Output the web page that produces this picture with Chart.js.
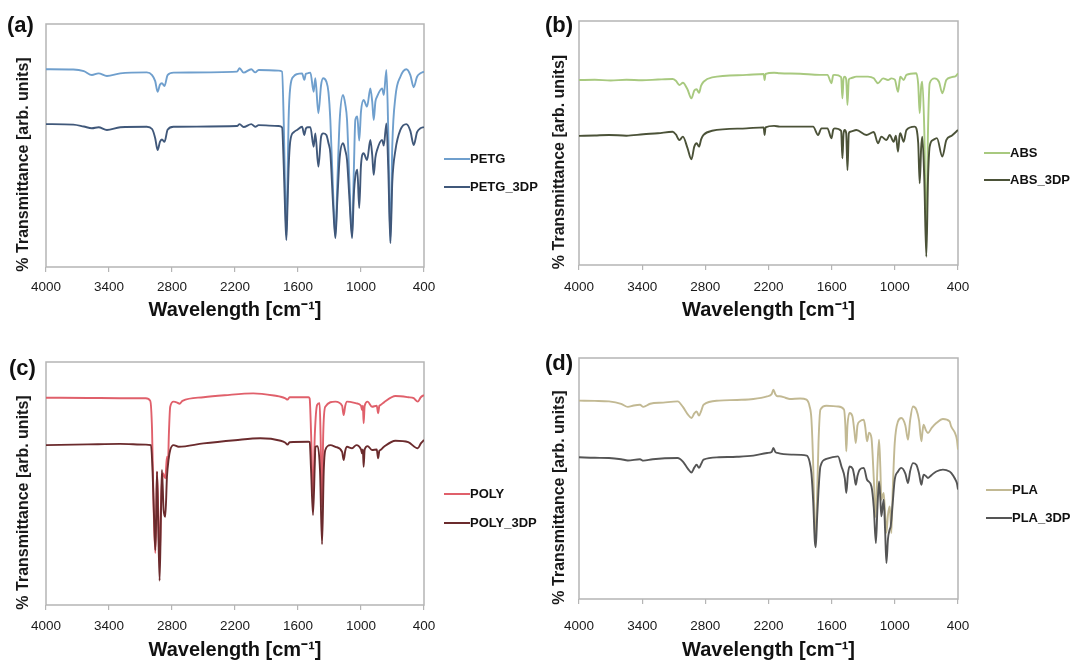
<!DOCTYPE html>
<html>
<head>
<meta charset="utf-8">
<script src="https://cdn.jsdelivr.net/npm/chart.js@4.4.0/dist/chart.umd.min.js"></script>
<style>
  body { margin: 0; background: #fff; }
  #wrap { position: relative; width: 1080px; height: 661px; overflow: hidden; font-family: 'Liberation Sans', Arial, sans-serif; }
  .panel { position: absolute; }
  .tag { position: absolute; font-weight: bold; font-size: 22px; color: #111; line-height: 1; }
  .leg { position: absolute; display: flex; align-items: center; font-weight: bold; font-size: 13px; color: #111; line-height: 1; }
  .leg span.ln { display: inline-block; width: 26px; height: 2px; }
</style>
</head>
<body>
<div id="wrap">
  <canvas class="panel" id="ca" width="540" height="330" style="left:0;top:0"></canvas>
  <canvas class="panel" id="cb" width="540" height="330" style="left:540px;top:0"></canvas>
  <canvas class="panel" id="cc" width="540" height="331" style="left:0;top:330px"></canvas>
  <canvas class="panel" id="cd" width="540" height="331" style="left:540px;top:330px"></canvas>

  <div class="tag" style="left:7px;top:14px">(a)</div>
  <div class="tag" style="left:545px;top:14px">(b)</div>
  <div class="tag" style="left:9px;top:357px">(c)</div>
  <div class="tag" style="left:545px;top:352px">(d)</div>

  <div class="leg" style="left:444px;top:152px"><span class="ln" style="background:#6f9fcd"></span>PETG</div>
  <div class="leg" style="left:444px;top:180px"><span class="ln" style="background:#40587a"></span>PETG_3DP</div>
  <div class="leg" style="left:984px;top:146px"><span class="ln" style="background:#a8c97f"></span>ABS</div>
  <div class="leg" style="left:984px;top:173px"><span class="ln" style="background:#4b5238"></span>ABS_3DP</div>
  <div class="leg" style="left:444px;top:487px"><span class="ln" style="background:#e0606b"></span>POLY</div>
  <div class="leg" style="left:444px;top:516px"><span class="ln" style="background:#6b2b2d"></span>POLY_3DP</div>
  <div class="leg" style="left:986px;top:483px"><span class="ln" style="background:#c2b993"></span>PLA</div>
  <div class="leg" style="left:986px;top:511px"><span class="ln" style="background:#555555"></span>PLA_3DP</div>
</div>

<script>
// wavenumber ticks (cm-1)
var X_TICKS = [4000, 3400, 2800, 2200, 1600, 1000, 400];

// spectra: [wavenumber, transmittance (arb.)]
var PETG = [[4000,81.4],[3740,81.3],[3640,80.6],[3563,79],[3500,79.7],[3420,78.6],[3293,79.7],[3040,80.1],[2990,79],[2960,76.5],[2937,72.1],[2915,75],[2896,75.6],[2871,74.5],[2842,79],[2785,80],[2181,80.4],[2156,81.8],[2118,80],[2045,81.4],[2007,80.1],[1975,81.1],[1784,80.8],[1752,80.4],[1736,60],[1722,30],[1711,13],[1700,35],[1690,60],[1673,74.2],[1640,78.5],[1609,79.4],[1561,79.7],[1540,77],[1525,79.5],[1508,79.7],[1482,80],[1451,72.1],[1435,77.7],[1406,63.3],[1380,74.9],[1361,77.7],[1330,76.3],[1310,72],[1292,60.5],[1265,30],[1244,12.5],[1225,35],[1203,60.5],[1171,70.8],[1150,67],[1133,60.5],[1110,35],[1085,12.5],[1068,40],[1054,60.5],[1035,62],[1017,52],[1000,64],[975,68.7],[942,66],[911,73.5],[893,68],[879,60.5],[863,68],[847,70.1],[799,73.5],[783,70.8],[758,81.1],[740,55],[720,10.5],[702,50],[672,70.1],[625,78.3],[568,81.4],[530,79],[498,74],[466,78.3],[434,79.7],[400,80.4]];
var PETG_3DP = [[4000,58.8],[3740,58.6],[3640,57.8],[3563,57.1],[3500,57.5],[3420,56.4],[3293,57.5],[3040,57.7],[2990,56.8],[2960,53],[2937,48.1],[2915,51.5],[2896,52.5],[2871,51.5],[2842,56.5],[2785,57.7],[2181,58],[2156,58.8],[2118,57.6],[2045,58.8],[2007,57.7],[1975,58.4],[1784,58],[1752,57.5],[1736,42],[1722,22],[1711,11.1],[1700,25],[1690,40],[1673,52],[1640,55.5],[1609,56.4],[1561,57.7],[1540,54.3],[1525,57],[1508,57.5],[1482,57.5],[1451,49.5],[1435,55],[1406,41.3],[1380,53.6],[1361,55],[1330,54.3],[1310,51],[1292,46.8],[1265,25],[1244,11.9],[1225,28],[1203,45],[1171,50.9],[1150,48],[1133,44],[1110,28],[1085,11.9],[1068,30],[1054,37.2],[1035,40],[1017,24.3],[1000,42],[975,46.8],[942,44],[911,52.3],[893,46],[879,37.9],[863,45],[847,48.1],[799,52.3],[783,50],[758,59.1],[740,40],[720,9.8],[702,35],[672,48.1],[625,56.4],[568,58.8],[530,56],[498,50.2],[466,55.5],[434,57.1],[400,57.6]];

var ABS = [[4000,75.8],[3850,75.9],[3700,75.6],[3550,75.9],[3400,75.7],[3250,76],[3111,76.2],[3080,75.5],[3046,73.8],[3013,74.7],[2970,72],[2932,68.3],[2905,71.5],[2883,72],[2860,70.6],[2840,73.5],[2817,75.1],[2736,76.9],[2409,77.9],[2246,78.3],[2237,75.8],[2228,78.3],[2147,78.8],[2093,78.6],[1900,78.4],[1713,77.9],[1640,77.9],[1602,74.5],[1585,77.8],[1571,77.9],[1510,77],[1498,68.3],[1487,76.5],[1476,77.2],[1462,76],[1450,65.6],[1437,76],[1422,76.5],[1365,77.2],[1255,77.2],[1200,76.5],[1160,74.5],[1112,76.5],[1065,75.8],[1033,76.5],[1000,76],[970,71],[955,75.5],[948,77.2],[916,75.8],[890,77.9],[796,78.6],[778,74],[764,62.2],[750,73],[739,75.1],[720,55],[701,10],[685,55],[669,74.5],[622,76.5],[580,75],[549,70.4],[511,75.8],[460,77],[420,77.5],[400,78.6]];
var ABS_3DP = [[4000,52.9],[3850,53.1],[3715,53.3],[3550,53],[3389,53.6],[3250,54],[3111,54.6],[3080,53.5],[3046,51.2],[3013,52.6],[2970,48],[2932,43.3],[2905,48.5],[2883,49.9],[2860,48.5],[2840,51.5],[2817,53.3],[2736,55],[2409,56],[2246,56.4],[2237,53.3],[2228,56.4],[2147,57],[2093,56.7],[1776,56.7],[1729,53.3],[1697,56],[1640,56],[1602,51.9],[1585,55.5],[1571,56],[1510,55],[1498,43.7],[1487,54],[1476,55.3],[1462,54],[1450,38.9],[1437,54],[1422,54.6],[1365,55.3],[1270,53.3],[1200,54.5],[1160,49.9],[1128,52.6],[1080,51.2],[1049,53.3],[1011,50.5],[990,53],[970,46.4],[955,53],[948,54],[916,50.5],[890,55.3],[811,56.7],[778,50],[764,33.5],[750,48],[739,52.6],[720,35],[701,3.4],[685,35],[669,48.5],[638,51.2],[600,52],[549,44.4],[511,51.2],[460,53],[400,55.3]];

var POLY = [[4000,85.3],[3600,85.2],[3295,85.1],[3050,85.1],[3007,84],[2990,72],[2975,40],[2959,21.4],[2950,35],[2943,54.9],[2932,40],[2918,18],[2905,40.5],[2896,50],[2886,54.2],[2864,52.1],[2848,61],[2838,58],[2830,70],[2817,81.6],[2785,83.7],[2750,83.3],[2728,82.8],[2700,84],[2500,85.5],[2300,86.3],[2026,87.1],[1800,86],[1765,85.7],[1720,85],[1700,84.5],[1680,85.5],[1500,85.5],[1489,85],[1475,70],[1457,45],[1440,70],[1418,82.3],[1394,83],[1385,70],[1371,40],[1360,70],[1340,81.6],[1244,83.7],[1180,82],[1165,78.2],[1150,82],[1133,83.7],[1044,83],[1000,82],[990,80.2],[982,82],[975,74.8],[965,82],[937,83.7],[895,81.6],[850,82],[837,78.9],[825,82],[815,82.3],[784,83.3],[672,86],[550,85.5],[498,85.1],[460,83.7],[430,85.5],[400,86.4]];
var POLY_3DP = [[4000,65.8],[3600,66.1],[3295,66.3],[3050,66],[3000,65.8],[2985,55],[2970,35],[2959,22.6],[2950,38],[2943,54.9],[2932,35],[2918,10],[2905,38],[2896,55.6],[2880,39.1],[2864,36.3],[2848,52.8],[2833,59.7],[2817,63.8],[2785,65.8],[2737,65.1],[2500,66.5],[2200,67.8],[1959,68.6],[1765,67.6],[1720,66.8],[1700,66],[1680,67],[1500,67.2],[1489,67],[1475,55],[1457,37],[1440,58],[1435,65.1],[1413,65.4],[1390,55],[1371,25],[1355,55],[1340,63.8],[1292,65.8],[1244,65.1],[1180,63],[1165,59.7],[1150,63.5],[1133,65.1],[1085,64.5],[1044,65.8],[1000,64],[990,62.4],[982,64],[975,56.9],[965,64],[937,65.4],[895,63.8],[850,64],[837,60.4],[825,63.5],[815,63.8],[784,65],[672,67.6],[550,67],[460,64.5],[430,66.5],[400,67.9]];

var PLA = [[4000,82.3],[3850,82.2],[3715,82],[3600,81],[3536,79.7],[3480,80.3],[3421,80.6],[3389,79.7],[3324,81],[3200,81.5],[3063,82],[3013,79.7],[2965,76.5],[2932,75.1],[2905,77],[2883,77.8],[2860,76.1],[2840,78],[2817,80.6],[2670,82.3],[2500,82.6],[2344,83],[2213,84.1],[2170,85],[2154,86.8],[2135,85],[2115,84.1],[2093,84.1],[2040,83.5],[1998,83],[1900,83.2],[1839,82.7],[1810,80],[1792,74.4],[1775,55],[1760,28],[1751,24],[1740,40],[1725,65],[1707,78.6],[1650,80.2],[1540,79.9],[1483,78.6],[1470,72],[1461,61.2],[1450,72],[1429,77.2],[1403,75.8],[1385,70],[1371,64.7],[1355,72],[1333,73.7],[1295,74.4],[1280,71],[1264,65.4],[1245,69],[1222,66.8],[1200,50],[1182,34],[1165,55],[1150,66.1],[1138,55],[1128,41.2],[1106,44],[1092,35],[1080,27.5],[1065,35],[1049,38.4],[1040,33],[1033,27.4],[1020,45],[1001,64.7],[970,73.7],[938,75.1],[900,72],[875,66.1],[855,74],[828,79.9],[796,78.6],[770,74],[748,65.4],[736,70],[726,72.3],[705,70],[685,68.9],[650,71],[606,73],[543,74.7],[480,73.7],[465,71.6],[430,69],[410,66],[400,62]];
var PLA_3DP = [[4000,58.8],[3850,58.6],[3715,58.5],[3600,58],[3536,57.5],[3421,58],[3389,57.4],[3300,58],[3063,58.5],[3013,57],[2965,54],[2932,52.5],[2905,54.5],[2883,55.7],[2860,54.4],[2840,56],[2817,57.8],[2670,58.8],[2500,59],[2344,59.5],[2213,60.6],[2170,61],[2154,62.7],[2135,61],[2115,60.6],[1984,59.9],[1837,59.5],[1810,57],[1792,52],[1775,40],[1760,24],[1751,21.5],[1740,32],[1725,45],[1707,55],[1650,58.1],[1540,59.2],[1507,55],[1475,50],[1461,44],[1445,52],[1429,55],[1400,54],[1385,51],[1371,47.4],[1355,51],[1333,53.7],[1295,54.4],[1264,49.5],[1222,46.7],[1200,38],[1180,23.2],[1165,38],[1150,48.8],[1138,42],[1128,34.3],[1106,41.2],[1092,28],[1080,14.9],[1065,25],[1049,28.8],[1040,30],[1033,32.9],[1020,40],[1001,49.5],[970,52.9],[938,54.4],[900,52],[875,48.1],[855,53],[828,56.4],[796,55.7],[770,52],[748,47.4],[736,50],[726,51.6],[705,51],[685,50.2],[650,51.5],[606,52.9],[543,53.7],[480,52.9],[465,52.3],[430,50],[410,48],[400,45.4]];

Chart.defaults.font.family = "'Liberation Sans', Arial, sans-serif";
Chart.defaults.color = '#1a1a1a';

// plot-area box and rotated y title
var framePlugin = {
    id: 'frame',
    beforeDatasetsDraw: function(chart) {
        var a = chart.chartArea, ctx = chart.ctx;
        ctx.save();
        ctx.strokeStyle = '#b5b5b5';
        ctx.lineWidth = 1.5;
        ctx.strokeRect(a.left, a.top, a.right - a.left, a.bottom - a.top);
        ctx.restore();
    },
    afterDraw: function(chart, args, opts) {
        var a = chart.chartArea, ctx = chart.ctx;
        ctx.save();
        ctx.translate(opts.x, (a.top + a.bottom) / 2 + 19);
        ctx.rotate(-Math.PI / 2);
        ctx.font = "bold 16px 'Liberation Sans', Arial, sans-serif";
        ctx.fillStyle = '#1a1a1a';
        ctx.textAlign = 'center';
        ctx.textBaseline = 'middle';
        ctx.fillText('% Transmittance [arb. units]', 0, 0);
        ctx.restore();
    }
};

function toXY(arr) {
    return arr.map(function(p) { return {x: p[0], y: p[1]}; });
}

function makePanel(id, names, series, colors, g) {
    var datasets = series.map(function(s, i) {
        return {
            label: names[i],
            data: toXY(s),
            borderColor: colors[i],
            borderWidth: 1.9,
            pointRadius: 0,
            cubicInterpolationMode: 'monotone',
            fill: false,
            order: series.length - i
        };
    });
    new Chart(document.getElementById(id).getContext('2d'), {
        type: 'line',
        data: { datasets: datasets },
        options: {
            responsive: false,
            animation: false,
            devicePixelRatio: 1,
            layout: { padding: { top: g.top, right: g.right, left: 0, bottom: 0 } },
            plugins: {
                legend: { display: false },
                tooltip: { enabled: false },
                frame: { x: g.ytx }
            },
            scales: {
                x: {
                    type: 'linear',
                    min: 400,
                    max: 4000,
                    reverse: true,
                    afterBuildTicks: function(scale) {
                        scale.ticks = X_TICKS.map(function(v) { return {value: v}; });
                    },
                    afterFit: function(scale) { scale.height = g.xh; },
                    ticks: {
                        autoSkip: false,
                        maxRotation: 0,
                        padding: g.tickPad,
                        color: '#1a1a1a',
                        font: { size: 13.5 },
                        callback: function(v) { return String(v); }
                    },
                    grid: { drawOnChartArea: false, drawTicks: true, tickLength: 5, color: '#b5b5b5', lineWidth: 1.2 },
                    border: { display: false },
                    title: {
                        display: true,
                        text: 'Wavelength [cm\u207B\u00B9]',
                        color: '#111',
                        font: { size: 20, weight: 'bold', lineHeight: 1 },
                        padding: { top: 0, bottom: g.titlePad }
                    }
                },
                y: {
                    min: 0,
                    max: 100,
                    afterFit: function(scale) { scale.width = g.yw; },
                    ticks: { display: false },
                    grid: { display: false },
                    border: { display: false }
                }
            }
        },
        plugins: [framePlugin]
    });
}

makePanel('ca', ['PETG', 'PETG_3DP'], [PETG, PETG_3DP], ['#6f9fcd', '#40587a'],
    { top: 24, right: 116, yw: 46, xh: 63, tickPad: 7, titlePad: 10, ytx: 24 });
makePanel('cb', ['ABS', 'ABS_3DP'], [ABS, ABS_3DP], ['#a8c97f', '#4b5238'],
    { top: 21, right: 122, yw: 39, xh: 65, tickPad: 9, titlePad: 10, ytx: 20 });
makePanel('cc', ['POLY', 'POLY_3DP'], [POLY, POLY_3DP], ['#e0606b', '#6b2b2d'],
    { top: 32, right: 116, yw: 46, xh: 56, tickPad: 8, titlePad: 1, ytx: 24 });
makePanel('cd', ['PLA', 'PLA_3DP'], [PLA, PLA_3DP], ['#c2b993', '#555555'],
    { top: 28, right: 122, yw: 39, xh: 62, tickPad: 14, titlePad: 1, ytx: 20 });
</script>
</body>
</html>
